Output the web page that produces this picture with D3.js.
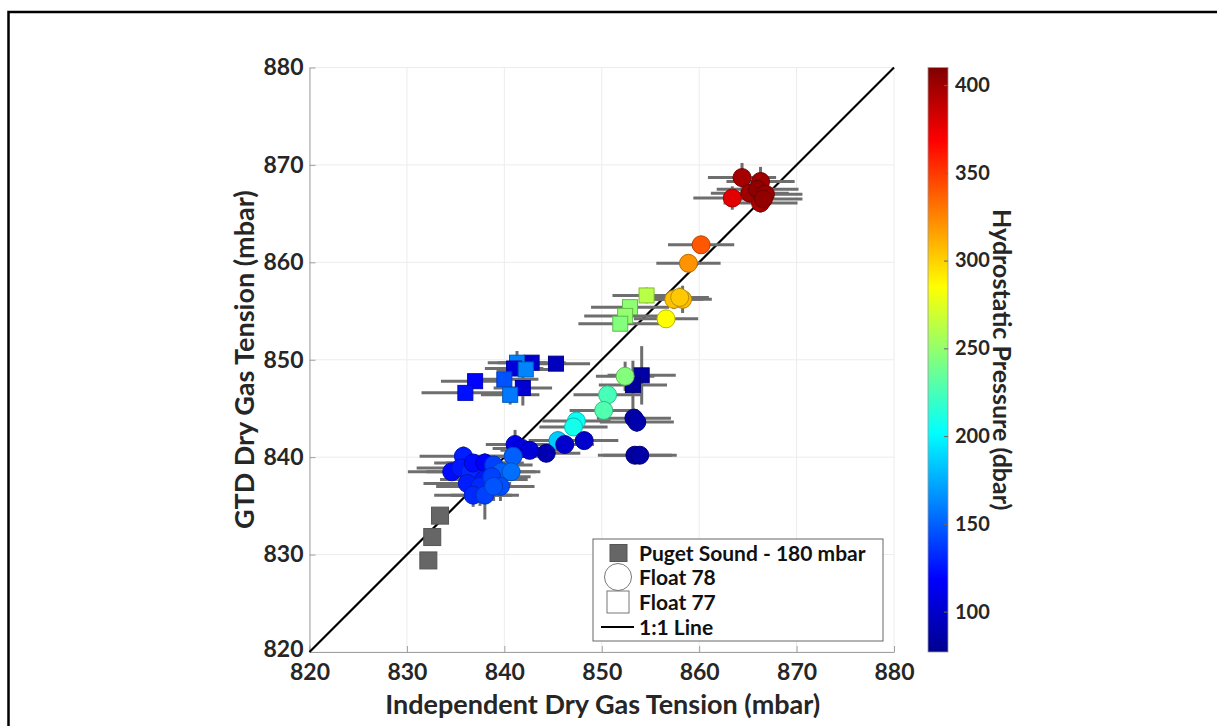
<!DOCTYPE html>
<html>
<head>
<meta charset="utf-8">
<script src="https://cdn.jsdelivr.net/npm/d3@7"></script>
<style>
  body { margin: 0; background: #fff; }
  text { font-family: Lato, "Open Sans", sans-serif; font-weight: bold; }
</style>
</head>
<body>
<div id="chart"></div>
<script>
// Puget Sound calibration: [x, y]
var pugetSound = [[832.2, 829.4], [832.6, 831.8], [833.4, 834.0]];

// Float 78 (circles): [independent, gtd, pressure, xErr, yErr]
var float78 = [
  [864.4, 868.7, 398, 3.5, 1.5], [866.3, 868.3, 400, 3.5, 1.5],
  [863.4, 866.6, 378, 4.0, 1.2], [865.2, 867.1, 400, 4.0, 1.0],
  [866.0, 867.5, 405, 4.2, 1.0], [866.8, 867.0, 402, 3.8, 1.0],
  [866.3, 866.1, 396, 3.8, 1.0], [866.6, 866.5, 404, 4.0, 1.0],
  [860.2, 861.8, 340, 3.4, 0.3], [858.9, 859.9, 320, 3.3, 0.3],
  [857.4, 856.2, 305, 3.0, 1.0], [858.3, 856.2, 308, 3.0, 1.4],
  [858.0, 856.4, 303, 3.0, 1.0], [856.6, 854.2, 285, 3.3, 0.5],
  [852.4, 848.3, 245, 3.0, 1.5], [850.6, 846.4, 225, 3.5, 0.5],
  [850.2, 844.8, 228, 3.5, 1.2], [847.4, 843.7, 205, 3.5, 0.8],
  [847.1, 843.1, 208, 3.5, 0.5], [845.5, 841.7, 185, 3.0, 0.5],
  [846.2, 841.3, 100, 3.0, 0.5], [848.2, 841.7, 100, 3.5, 0.5],
  [844.3, 840.4, 90, 3.5, 0.5], [853.3, 844.0, 88, 3.8, 1.0],
  [853.6, 843.6, 88, 3.8, 1.0], [853.4, 840.2, 85, 3.8, 0.3],
  [853.9, 840.2, 85, 3.8, 0.3], [841.1, 841.3, 112, 3.0, 1.5],
  [841.8, 840.9, 108, 3.0, 0.5], [842.6, 840.7, 104, 3.0, 0.5],
  [840.9, 840.1, 150, 3.0, 0.5], [835.8, 840.1, 128, 4.5, 1.0],
  [834.6, 838.5, 122, 4.5, 0.5], [835.5, 838.9, 126, 4.5, 0.8],
  [836.5, 838.5, 132, 4.5, 0.8], [836.8, 839.4, 122, 4.0, 0.8],
  [838.0, 839.4, 118, 4.0, 1.0], [838.9, 839.2, 140, 4.0, 1.0],
  [839.7, 838.5, 150, 3.5, 0.8], [840.7, 838.5, 155, 3.0, 0.8],
  [837.9, 837.7, 126, 4.5, 1.0], [836.2, 837.3, 128, 4.5, 1.5],
  [837.5, 837.0, 132, 4.5, 2.0], [838.7, 838.0, 140, 4.0, 1.5],
  [839.6, 837.0, 144, 3.5, 1.5], [836.8, 836.1, 132, 4.0, 1.2],
  [838.0, 836.1, 140, 3.5, 2.5], [838.9, 837.0, 146, 3.0, 1.5]
];

// Float 77 (squares): [independent, gtd, pressure, xErr, yErr]
var float77 = [
  [845.3, 849.6, 95, 3.5, 0.3], [842.8, 849.7, 100, 3.5, 0.5],
  [841.3, 849.7, 160, 3.0, 1.2], [841.0, 849.1, 105, 3.0, 0.5],
  [842.2, 849.0, 162, 3.0, 0.5], [840.0, 848.0, 145, 3.5, 0.5],
  [841.9, 847.1, 102, 3.0, 1.8], [840.6, 846.4, 158, 3.0, 1.0],
  [837.0, 847.8, 120, 3.5, 0.3], [836.0, 846.6, 124, 4.5, 0.3],
  [854.1, 848.4, 85, 3.5, 3.0], [853.2, 847.4, 82, 3.5, 2.5],
  [854.6, 856.6, 262, 3.5, 0.8], [852.9, 855.4, 248, 4.0, 0.5],
  [852.4, 854.5, 250, 4.2, 0.5], [851.9, 853.7, 245, 4.3, 0.5]
];

var axisTicks = [820, 830, 840, 850, 860, 870, 880];
var cbarTicks = [100, 150, 200, 250, 300, 350, 400];
var cbarDomain = [77, 410];
var legendLabels = ["Puget Sound - 180 mbar", "Float 78", "Float 77", "1:1 Line"];

var W = 1217, H = 726;
var svg = d3.select("#chart").append("svg").attr("width", W).attr("height", H);

// figure frame
svg.append("path").attr("d", "M8.5,726 L8.5,12 L1217,12")
  .attr("fill", "none").attr("stroke", "#000").attr("stroke-width", 2.5);

var x = d3.scaleLinear().domain([820, 880]).range([309.5, 894]);
var y = d3.scaleLinear().domain([820, 880]).range([652, 67.5]);

// jet colormap
var jetStops = ["#00008f", "#0000ff", "#00ffff", "#ffff00", "#ff0000", "#800000"];
var jet = d3.scaleLinear().domain([0, 0.125, 0.375, 0.625, 0.875, 1]).range(jetStops).clamp(true);
var pScale = d3.scaleLinear().domain(cbarDomain).range([0, 1]);
function pColor(p) { return jet(pScale(p)); }

var g = svg.append("g");

// grid
g.selectAll(".gx").data(axisTicks).enter().append("line")
  .attr("x1", d => x(d)).attr("x2", d => x(d)).attr("y1", y(820)).attr("y2", y(880))
  .attr("stroke", "#ececec").attr("stroke-width", 1);
g.selectAll(".gy").data(axisTicks).enter().append("line")
  .attr("y1", d => y(d)).attr("y2", d => y(d)).attr("x1", x(820)).attr("x2", x(880))
  .attr("stroke", "#ececec").attr("stroke-width", 1);

// axes
var xAxis = g.append("g").attr("transform", "translate(0," + y(820) + ")")
  .call(d3.axisBottom(x).tickValues(axisTicks).tickSizeInner(-6).tickSizeOuter(0).tickPadding(10));
var yAxis = g.append("g").attr("transform", "translate(" + x(820) + ",0)")
  .call(d3.axisLeft(y).tickValues(axisTicks).tickSizeInner(-6).tickSizeOuter(0).tickPadding(6));
[xAxis, yAxis].forEach(function(a) {
  a.select(".domain").attr("stroke", "#a0a0a0");
  a.selectAll(".tick line").attr("stroke", "#a0a0a0");
  a.selectAll("text").attr("fill", "#262626").style("font-size", "23px")
    .style("font-family", "Lato, sans-serif").style("font-weight", "bold");
});
xAxis.selectAll("text").attr("dy", "0.8em");
// nudge the bottom y label up a little so it clears the x "820"
yAxis.selectAll(".tick").filter(d => d == 820).select("text").attr("dy", "0.2em");

// axis labels
svg.append("text").attr("x", (x(820) + x(880)) / 2 + 1).attr("y", 714)
  .attr("text-anchor", "middle").attr("fill", "#262626").style("font-size", "27px")
  .text("Independent Dry Gas Tension (mbar)");
svg.append("text").attr("transform", "translate(254," + (y(850)) + ") rotate(-90)")
  .attr("text-anchor", "middle").attr("fill", "#262626").style("font-size", "27px")
  .text("GTD Dry Gas Tension (mbar)");

// 1:1 line
g.append("line").attr("x1", x(820)).attr("y1", y(820)).attr("x2", x(880)).attr("y2", y(880))
  .attr("stroke", "#000").attr("stroke-width", 2.2);

// error bars
var errData = float78.concat(float77);
var errG = g.append("g").attr("stroke", "#6e6e6e").attr("stroke-width", 3);
errG.selectAll(".eh").data(errData).enter().append("line")
  .attr("x1", d => x(d[0] - d[3])).attr("x2", d => x(d[0] + d[3]))
  .attr("y1", d => y(d[1])).attr("y2", d => y(d[1]));
errG.selectAll(".ev").data(errData).enter().append("line")
  .attr("x1", d => x(d[0])).attr("x2", d => x(d[0]))
  .attr("y1", d => y(d[1] - d[4])).attr("y2", d => y(d[1] + d[4]));

// Puget Sound squares
var ps = 17;
g.selectAll(".puget").data(pugetSound).enter().append("rect")
  .attr("x", d => x(d[0]) - ps / 2).attr("y", d => y(d[1]) - ps / 2)
  .attr("width", ps).attr("height", ps)
  .attr("fill", "#666").attr("stroke", "#555").attr("stroke-width", 1);

// Float 77 squares
var fs = 15;
g.selectAll(".f77").data(float77).enter().append("rect")
  .attr("x", d => x(d[0]) - fs / 2).attr("y", d => y(d[1]) - fs / 2)
  .attr("width", fs).attr("height", fs)
  .attr("fill", d => pColor(d[2]))
  .attr("stroke", d => d3.color(pColor(d[2])).darker(0.9)).attr("stroke-width", 1);

// Float 78 circles
g.selectAll(".f78").data(float78).enter().append("circle")
  .attr("cx", d => x(d[0])).attr("cy", d => y(d[1])).attr("r", 9)
  .attr("fill", d => pColor(d[2]))
  .attr("stroke", d => d3.color(pColor(d[2])).darker(0.9)).attr("stroke-width", 1);

// legend
var lg = svg.append("g").attr("transform", "translate(593,539)");
lg.append("rect").attr("width", 290).attr("height", 102)
  .attr("fill", "#fff").attr("stroke", "#666").attr("stroke-width", 1);
var rowY = [14, 38, 63, 88];
lg.append("rect").attr("x", 17).attr("y", rowY[0] - 8.5).attr("width", 17).attr("height", 17)
  .attr("fill", "#666").attr("stroke", "#555");
lg.append("circle").attr("cx", 25).attr("cy", rowY[1]).attr("r", 13.5)
  .attr("fill", "#fff").attr("stroke", "#777");
lg.append("rect").attr("x", 14).attr("y", rowY[2] - 11).attr("width", 22).attr("height", 22)
  .attr("fill", "#fff").attr("stroke", "#777");
lg.append("line").attr("x1", 8).attr("x2", 41).attr("y1", rowY[3]).attr("y2", rowY[3])
  .attr("stroke", "#000").attr("stroke-width", 2);
lg.selectAll(".lt").data(legendLabels).enter().append("text")
  .attr("x", 46).attr("y", (d, i) => rowY[i]).attr("dy", "0.36em")
  .attr("fill", "#111").style("font-size", "21px").text(d => d);

// colorbar
var cb = { x: 928, w: 20, top: 67.5, bottom: 652 };
var cy = d3.scaleLinear().domain(cbarDomain).range([cb.bottom, cb.top]);
var defs = svg.append("defs");
var grad = defs.append("linearGradient").attr("id", "jetGrad")
  .attr("x1", 0).attr("y1", 1).attr("x2", 0).attr("y2", 0);
d3.range(0, 1.0001, 0.125).forEach(function(t) {
  grad.append("stop").attr("offset", t).attr("stop-color", jet(t));
});
svg.append("rect").attr("x", cb.x).attr("y", cb.top).attr("width", cb.w)
  .attr("height", cb.bottom - cb.top).attr("fill", "url(#jetGrad)")
  .attr("stroke", "#999").attr("stroke-width", 0.8);
var cbAxis = svg.append("g").attr("transform", "translate(" + (cb.x + cb.w) + ",0)")
  .call(d3.axisRight(cy).tickValues(cbarTicks).tickSizeInner(-4).tickSizeOuter(0).tickPadding(7));
cbAxis.select(".domain").remove();
cbAxis.selectAll(".tick line").attr("stroke", "#666");
cbAxis.selectAll("text").attr("fill", "#262626").style("font-size", "20px")
  .style("font-family", "Lato, sans-serif").style("font-weight", "bold");
svg.append("text").attr("transform", "translate(993," + ((cb.top + cb.bottom) / 2) + ") rotate(90)")
  .attr("text-anchor", "middle").attr("fill", "#262626").style("font-size", "25px")
  .text("Hydrostatic Pressure (dbar)");
</script>
</body>
</html>
